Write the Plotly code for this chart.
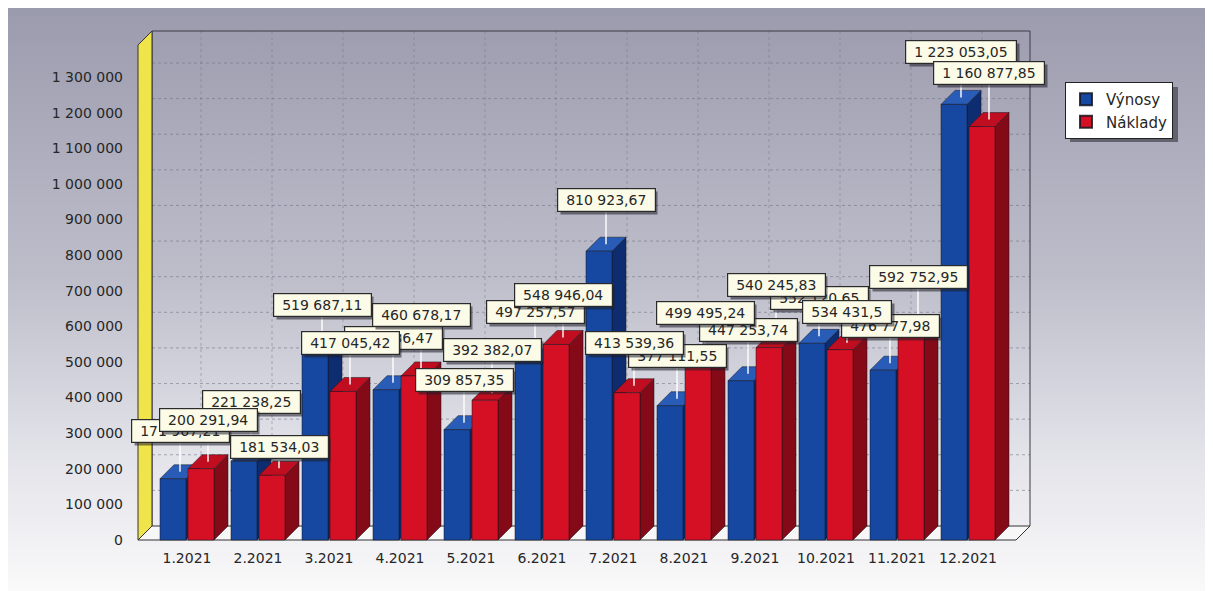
import base64
import plotly.graph_objects as go

# ---------------- data ----------------
CATEGORIES = ["1.2021", "2.2021", "3.2021", "4.2021", "5.2021", "6.2021",
              "7.2021", "8.2021", "9.2021", "10.2021", "11.2021", "12.2021"]
SERIES_NAMES = ["Výnosy", "Náklady"]
VYNOSY = [171967.21, 221238.25, 519687.11, 421836.47, 309857.35, 497257.57,
          810923.67, 377111.55, 447253.74, 552120.65, 476777.98, 1223053.05]
NAKLADY = [200291.94, 181534.03, 417045.42, 460678.17, 392382.07, 548946.04,
           413539.36, 499495.24, 540245.83, 534431.50, 592752.95, 1160877.85]
Y_TICK_VALUES = [0, 100000, 200000, 300000, 400000, 500000, 600000, 700000,
                 800000, 900000, 1000000, 1100000, 1200000, 1300000]
Y_TICK_LABELS = ["0", "100 000", "200 000", "300 000", "400 000", "500 000",
                 "600 000", "700 000", "800 000", "900 000", "1 000 000",
                 "1 100 000", "1 200 000", "1 300 000"]

# label lift above the bar front top, in px (the original staggers labels to avoid collisions)
LABEL_LIFT_VYNOSY = [48, 59, 50, 52, 50, 51, 51, 50, 51, 45, 44, 52]
LABEL_LIFT_NAKLADY = [49, 28, 48, 61, 50, 49, 50, 49, 63, 38, 52, 54]

# ---------------- geometry (page pixels; the page body has an 8px margin) ----------------
BODY = 8
W, H = 1213, 591


def fx(px):  # page px -> figure px
    return px - BODY


PX_L, PX_R = fx(135), fx(1034)
PX_T, PX_B = fx(28), fx(543)
PX_ZERO, PX_TOPTICK = fx(540), fx(77)
PX_CAT0, PX_STEP = fx(187), 71
DEPTH_PX = 14
PX_WALL_L, PX_WALL_R, PX_WALL_TOP = fx(138), fx(1030), fx(45)

ypp = Y_TICK_VALUES[-1] / (PX_ZERO - PX_TOPTICK)
y_range = [-(PX_B - PX_ZERO) * ypp, (PX_ZERO - PX_T) * ypp]
x_range = [(PX_L - PX_CAT0) / PX_STEP, (PX_R - PX_CAT0) / PX_STEP]
DX = DEPTH_PX / PX_STEP
DY = DEPTH_PX * ypp
XL = (PX_WALL_L - PX_CAT0) / PX_STEP
XR = (PX_WALL_R - PX_CAT0) / PX_STEP
HW = (PX_ZERO - PX_WALL_TOP) * ypp

BAR_W = 26 / PX_STEP
OFFSETS = [-27 / PX_STEP, 1 / PX_STEP]
BOX_H = 22

FRONT = ["rgb(22,72,162)", "rgb(214,16,36)"]
TOP = ["rgb(40,92,182)", "rgb(192,14,32)"]
SIDE = ["rgb(14,44,112)", "rgb(132,10,24)"]
EDGE = "rgba(20,20,30,0.85)"
FONT = "DejaVu Sans"

positions = list(range(len(CATEGORIES)))
series = [VYNOSY, NAKLADY]
lifts = [LABEL_LIFT_VYNOSY, LABEL_LIFT_NAKLADY]


def fmt(v):
    s = f"{v:,.2f}".replace(",", " ").replace(".", ",")
    return s.rstrip("0").rstrip(",")


def text_w(s):
    return sum(8.9 if ch.isdigit() else 4.45 for ch in s)


def poly(pts):
    return "M " + " L ".join(f"{x},{y}" for x, y in pts) + " Z"


def px2paper_x(px):
    return (fx(px) - PX_L) / (PX_R - PX_L)


def px2paper_y(py):
    return (PX_B - fx(py)) / (PX_B - PX_T)


shapes = []
# back wall gridlines
for v in Y_TICK_VALUES[1:]:
    shapes.append(dict(type="line", xref="x", yref="y", x0=XL + DX, x1=XR,
                       y0=v + DY, y1=v + DY, layer="below",
                       line=dict(color="rgba(110,110,130,0.55)", width=1, dash="dot")))
for p in positions:
    shapes.append(dict(type="line", xref="x", yref="y", x0=p + DX, x1=p + DX,
                       y0=DY, y1=HW + DY, layer="below",
                       line=dict(color="rgba(110,110,130,0.45)", width=1, dash="dot")))
# back wall outline
shapes.append(dict(type="path", xref="x", yref="y", layer="below",
                   path=f"M {XL+DX},{DY} L {XL+DX},{HW+DY} L {XR},{HW+DY} L {XR},{DY}",
                   line=dict(color="#3a3a44", width=1)))
# floor
shapes.append(dict(type="path", xref="x", yref="y", layer="below",
                   path=poly([(XL, 0), (XR - DX, 0), (XR, DY), (XL + DX, DY)]),
                   fillcolor="#f7f7f7", line=dict(color="#333", width=1)))
# yellow left wall
shapes.append(dict(type="path", xref="x", yref="y", layer="below",
                   path=poly([(XL, 0), (XL + DX, DY), (XL + DX, HW + DY), (XL, HW)]),
                   fillcolor="#efe44a", line=dict(color="#333", width=1)))
# 3D faces of bars
for p in positions:
    for s in range(2):
        h = series[s][p]
        x0 = p + OFFSETS[s]
        x1 = x0 + BAR_W
        shapes.append(dict(type="path", xref="x", yref="y", layer="below",
                           path=poly([(x1, 0), (x1 + DX, DY), (x1 + DX, h + DY), (x1, h)]),
                           fillcolor=SIDE[s], line=dict(color=EDGE, width=0.6)))
        shapes.append(dict(type="path", xref="x", yref="y", layer="below",
                           path=poly([(x0, h), (x1, h), (x1 + DX, h + DY), (x0 + DX, h + DY)]),
                           fillcolor=TOP[s], line=dict(color=EDGE, width=0.6)))
# leader lines (under every label)
for s in range(2):
    for p in positions:
        h = series[s][p]
        xa = p + OFFSETS[s] + BAR_W / 2 + DX / 2
        shapes.append(dict(type="line", xref="x", yref="y", layer="above",
                           x0=xa, x1=xa, y0=h + DY / 2,
                           y1=h + (lifts[s][p] - BOX_H / 2) * ypp,
                           line=dict(color="rgba(255,255,255,0.95)", width=1.5)))

# legend shadow
shapes.append(dict(type="rect", xref="paper", yref="paper", layer="below",
                   x0=px2paper_x(1070), x1=px2paper_x(1178),
                   y0=px2paper_y(142), y1=px2paper_y(87),
                   fillcolor="rgba(40,40,50,0.55)", line=dict(width=0)))

# data labels (all Výnosy labels first, Náklady labels on top)
annotations = []
for s in range(2):
    for p in positions:
        h = series[s][p]
        txt = fmt(h)
        bw = text_w(txt) + 14
        xa = p + OFFSETS[s] + BAR_W / 2 + DX / 2
        lift = lifts[s][p]
        annotations.append(dict(x=xa, y=h, xref="x", yref="y", text=txt,
                                showarrow=False, xshift=3, yshift=lift - 3,
                                width=bw, height=BOX_H - 2, borderpad=1,
                                font=dict(family=FONT, size=14, color="rgba(0,0,0,0)"),
                                bgcolor="rgba(30,30,40,0.55)", borderwidth=1,
                                bordercolor="rgba(0,0,0,0)"))
        annotations.append(dict(x=xa, y=h, xref="x", yref="y", text=txt,
                                showarrow=False, yshift=lift,
                                width=bw, height=BOX_H - 2, borderpad=1,
                                font=dict(family=FONT, size=14, color="#262626"),
                                bgcolor="#fbfbe8", bordercolor="#2a2a2a",
                                borderwidth=1.2))

svg = (f'<svg xmlns="http://www.w3.org/2000/svg" width="{W}" height="{H}">'
       '<defs><linearGradient id="g" x1="0" y1="0" x2="0" y2="1">'
       '<stop offset="0" stop-color="#9b9bae"/>'
       '<stop offset="0.45" stop-color="#bdbdca"/>'
       '<stop offset="0.75" stop-color="#e2e2e9"/>'
       '<stop offset="1" stop-color="#fbfbfb"/>'
       '</linearGradient></defs>'
       f'<rect x="0" y="0" width="{W}" height="{H}" fill="url(#g)"/></svg>')
src = "data:image/svg+xml;base64," + base64.b64encode(svg.encode()).decode()

fig = go.Figure()
for s in range(2):
    fig.add_trace(go.Bar(x=positions, y=series[s], name=SERIES_NAMES[s],
                         width=BAR_W, offset=OFFSETS[s],
                         marker=dict(color=FRONT[s], line=dict(color=EDGE, width=0.6)),
                         hoverinfo="skip"))

fig.update_layout(
    width=W, height=H,
    margin=dict(l=PX_L, r=W - PX_R, t=PX_T, b=H - PX_B, autoexpand=False),
    paper_bgcolor="white", plot_bgcolor="rgba(0,0,0,0)",
    barmode="overlay",
    font=dict(family=FONT, size=14, color="#262626"),
    xaxis=dict(range=x_range, tickvals=positions, ticktext=CATEGORIES,
               showgrid=False, zeroline=False, showline=False, ticks="",
               ticklabelstandoff=5,
               tickfont=dict(family=FONT, size=14, color="#262626")),
    yaxis=dict(range=y_range, tickvals=Y_TICK_VALUES, ticktext=Y_TICK_LABELS,
               showgrid=False, zeroline=False, showline=False, ticks="",
               ticklabelstandoff=11,
               tickfont=dict(family=FONT, size=14, color="#262626")),
    legend=dict(x=px2paper_x(1065), y=px2paper_y(82), xanchor="left", yanchor="top",
                bgcolor="white", bordercolor="#222", borderwidth=1,
                font=dict(family=FONT, size=15, color="#262626"),
                itemsizing="constant"),
    shapes=shapes,
    annotations=annotations,
    images=[dict(source=src, xref="paper", yref="paper",
                 x=(0 - PX_L) / (PX_R - PX_L), y=PX_B / (PX_B - PX_T),
                 sizex=W / (PX_R - PX_L), sizey=H / (PX_B - PX_T),
                 sizing="stretch", xanchor="left", yanchor="top", layer="below")],
)

fig.write_html("out.html")
